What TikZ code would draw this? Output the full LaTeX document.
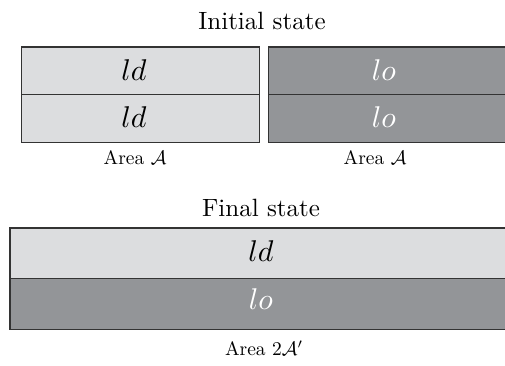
\documentclass[tikz,border=0pt]{standalone}
\usepackage{amsmath}
\definecolor{lightcell}{HTML}{DCDDDF}
\definecolor{darkcell}{HTML}{939598}
\definecolor{edge}{HTML}{333333}
\newcommand{\myhead}[1]{\scalebox{2.5}{#1}}
\newcommand{\mycell}[1]{\scalebox{3}{$#1$}}
\newcommand{\myarea}[1]{\scalebox{1.95}{#1}}
\tikzset{
  cell/.style={draw=edge, line width=1.3pt, inner sep=0pt, anchor=north west},
  lcell/.style={cell, fill=lightcell},
  dcell/.style={cell, fill=darkcell},
  txt/.style={anchor=base, inner sep=0pt},
  ltxt/.style={txt, text=black},
  dtxt/.style={txt, text=white},
}
\begin{document}
\begin{tikzpicture}[x=1pt,y=-1pt]
\useasboundingbox (0,0) rectangle (505,365);
% initial state
\node[txt] (init) at (262,29.3) {\myhead{Initial state}};
\node[lcell, minimum width=238pt, minimum height=47.7pt] (l1) at (20.5,46.3) {};
\node[lcell, minimum width=238pt, minimum height=47.7pt] (l2) at (20.5,94) {};
\node[dcell, minimum width=245pt, minimum height=47.7pt] (r1) at (267.7,46.3) {};
\node[dcell, minimum width=245pt, minimum height=47.7pt] (r2) at (267.7,94) {};
\node[ltxt] (l1t) at (134,80) {\mycell{ld}};
\node[ltxt] (l2t) at (134,127.7) {\mycell{ld}};
\node[dtxt] (r1t) at (384,80) {\mycell{lo}};
\node[dtxt] (r2t) at (384,127.7) {\mycell{lo}};
\node[txt] (areaL) at (135,164) {\myarea{Area $\mathcal{A}$}};
\node[txt] (areaR) at (375,164) {\myarea{Area $\mathcal{A}$}};
% final state
\node[txt] (final) at (261,216.7) {\myhead{Final state}};
\node[lcell, minimum width=505pt, minimum height=50.7pt] (f1) at (9.3,227.3) {};
\node[dcell, minimum width=505pt, minimum height=50.7pt] (f2) at (9.3,278) {};
\node[ltxt] (f1t) at (261,261.7) {\mycell{ld}};
\node[dtxt] (f2t) at (261,309) {\mycell{lo}};
\node[txt] (areaF) at (264,355.5) {\myarea{Area $2\mathcal{A}'$}};
\end{tikzpicture}
\end{document}
